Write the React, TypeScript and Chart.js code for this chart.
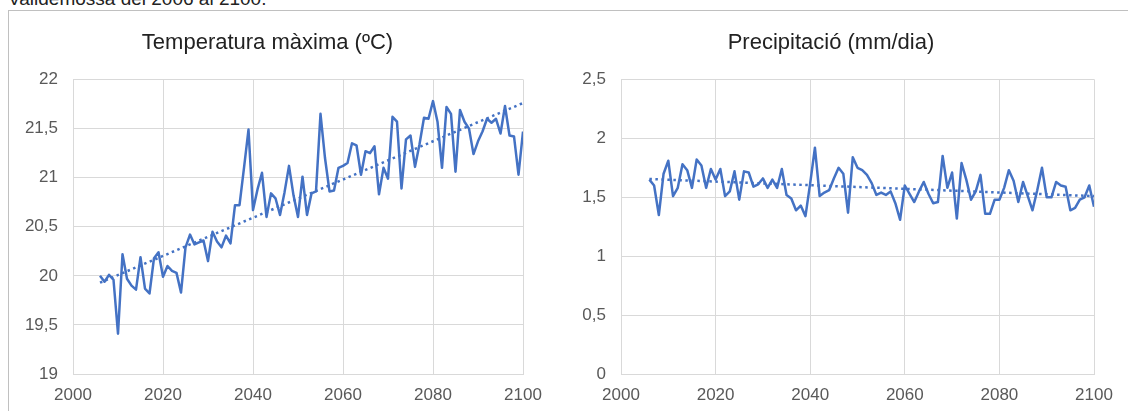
import React, { useEffect, useRef } from "react";
import { Chart, registerables } from "chart.js";

Chart.register(...registerables);

// ---------- data ----------
const CAPTION = "Valldemossa del 2006 al 2100.";
const TITLE_TEMP = "Temperatura màxima (ºC)";
const TITLE_PRECIP = "Precipitació (mm/dia)";

const START_YEAR = 2006;

const TEMP_MAX = [
  20.0, 19.94, 20.01, 19.96, 19.41, 20.22, 19.97, 19.9, 19.86, 20.19,
  19.87, 19.82, 20.18, 20.24, 19.99, 20.1, 20.05, 20.03, 19.83, 20.29,
  20.42, 20.32, 20.34, 20.36, 20.15, 20.45, 20.35, 20.29, 20.41, 20.33,
  20.72, 20.72, 21.1, 21.49, 20.67, 20.88, 21.05, 20.6, 20.84, 20.79,
  20.62, 20.85, 21.12, 20.82, 20.6, 21.01, 20.62, 20.84, 20.86, 21.65,
  21.2, 20.86, 20.87, 21.1, 21.12, 21.15, 21.35, 21.33, 21.03, 21.27,
  21.25, 21.32, 20.83, 21.1, 20.99, 21.62, 21.57, 20.89, 21.39, 21.43,
  21.11, 21.34, 21.61, 21.6, 21.78, 21.57, 21.1, 21.72, 21.65, 21.06,
  21.69, 21.57, 21.5, 21.24, 21.37, 21.47, 21.6, 21.56, 21.6, 21.45,
  21.73, 21.43, 21.42, 21.03, 21.47,
];

const PRECIP = [
  1.65, 1.6, 1.35, 1.7, 1.81, 1.51, 1.58, 1.78, 1.73, 1.58,
  1.82, 1.77, 1.58, 1.74, 1.65, 1.74, 1.51, 1.55, 1.72, 1.48,
  1.72, 1.71, 1.59, 1.61, 1.66, 1.58, 1.65, 1.58, 1.74, 1.52,
  1.49, 1.39, 1.43, 1.34, 1.62, 1.92, 1.51, 1.54, 1.56, 1.66,
  1.75, 1.7, 1.37, 1.84, 1.75, 1.73, 1.69, 1.62, 1.52, 1.54,
  1.52, 1.55, 1.45, 1.31, 1.6, 1.53, 1.46, 1.55, 1.63, 1.53,
  1.45, 1.46, 1.85, 1.58, 1.71, 1.32, 1.79, 1.65, 1.48, 1.55,
  1.69, 1.36, 1.36, 1.48, 1.48, 1.58, 1.73, 1.64, 1.46, 1.63,
  1.51, 1.39, 1.56, 1.75, 1.5, 1.5, 1.63, 1.6, 1.59, 1.39,
  1.41, 1.48, 1.5, 1.6, 1.42,
];

const YEARS = TEMP_MAX.map((_, i) => START_YEAR + i);

const TREND_YEARS = [2006, 2100];
const TEMP_TREND = [19.93, 21.76];
const PRECIP_TREND = [1.655, 1.51];

const X_TICKS = [2000, 2020, 2040, 2060, 2080, 2100];
const TEMP_TICKS = [19, 19.5, 20, 20.5, 21, 21.5, 22];
const PRECIP_TICKS = [0, 0.5, 1, 1.5, 2, 2.5];

// ---------- styles ----------
const FONT = "'Liberation Sans', Arial, sans-serif";
const BLUE = "#4472c4";
const GRID = "#d9d9d9";
const TICK_COLOR = "#595959";
const TITLE_COLOR = "#222222";

type PanelProps = {
  values: number[];
  trend: number[];
  yTicks: number[];
  title: string;
  padL: number;
  padR: number;
  padB: number;
  yWidth: number;
  titleTop: number;
  titleBottom: number;
  width: number;
  height: number;
  left: number;
  top: number;
};

const fmt = (v: number) => String(v).replace(".", ",");

function Panel(p: PanelProps) {
  const ref = useRef<HTMLCanvasElement | null>(null);
  useEffect(() => {
    if (!ref.current) return;
    const pts = (xs: number[], ys: number[]) => xs.map((x, i) => ({ x, y: ys[i] }));
    const chart = new Chart(ref.current, {
      type: "line",
      data: {
        datasets: [
          {
            data: pts(YEARS, p.values),
            borderColor: BLUE,
            borderWidth: 2.5,
            borderJoinStyle: "round",
            pointRadius: 0,
            tension: 0,
            fill: false,
          },
          {
            data: pts(TREND_YEARS, p.trend),
            borderColor: BLUE,
            borderWidth: 2.5,
            borderDash: [2.5, 3.5],
            pointRadius: 0,
            tension: 0,
            fill: false,
          },
        ],
      },
      options: {
        responsive: false,
        animation: false,
        devicePixelRatio: 1,
        layout: { padding: { left: p.padL, right: p.padR, top: 0, bottom: p.padB } },
        plugins: {
          legend: { display: false },
          tooltip: { enabled: false },
          title: {
            display: true,
            text: p.title,
            color: TITLE_COLOR,
            font: { size: 22, family: FONT, weight: "normal", lineHeight: 1.2 },
            padding: { top: p.titleTop, bottom: p.titleBottom },
          },
        },
        scales: {
          x: {
            type: "linear",
            min: X_TICKS[0],
            max: X_TICKS[X_TICKS.length - 1],
            afterBuildTicks: (s: any) => {
              s.ticks = X_TICKS.map((v) => ({ value: v }));
            },
            afterFit: (s: any) => {
              s.height = 30;
            },
            ticks: {
              color: TICK_COLOR,
              font: { size: 17, family: FONT },
              padding: 11,
              maxRotation: 0,
              autoSkip: false,
              callback: (v: any) => String(v),
            },
            grid: { color: GRID, lineWidth: 1, drawTicks: false },
            border: { color: GRID, width: 1 },
          },
          y: {
            type: "linear",
            min: p.yTicks[0],
            max: p.yTicks[p.yTicks.length - 1],
            afterBuildTicks: (s: any) => {
              s.ticks = p.yTicks.map((v) => ({ value: v }));
            },
            afterFit: (s: any) => {
              s.width = p.yWidth;
            },
            ticks: {
              color: TICK_COLOR,
              font: { size: 17, family: FONT },
              padding: 15,
              callback: (v: any) => fmt(Number(v)),
            },
            grid: { color: GRID, lineWidth: 1, drawTicks: false },
            border: { color: GRID, width: 1 },
          },
        },
      },
    } as any);
    return () => chart.destroy();
  }, []);
  return (
    <canvas
      ref={ref}
      width={p.width}
      height={p.height}
      style={{ position: "absolute", left: p.left, top: p.top, width: p.width, height: p.height }}
    />
  );
}

export default function App() {
  return (
    <div
      style={{
        position: "fixed",
        left: 0,
        top: 0,
        width: 1128,
        height: 411,
        overflow: "hidden",
        background: "#ffffff",
      }}
    >
      <div
        style={{
          position: "absolute",
          left: 8,
          top: -11,
          fontFamily: FONT,
          fontSize: 19,
          lineHeight: "19px",
          color: "#222222",
          whiteSpace: "nowrap",
        }}
      >
        {CAPTION}
      </div>
      <div
        style={{
          position: "absolute",
          left: 8,
          top: 10,
          width: 1200,
          height: 500,
          borderLeft: "1px solid #c0c0c0",
          borderTop: "1px solid #c0c0c0",
        }}
      />
      <Panel
        values={TEMP_MAX}
        trend={TEMP_TREND}
        yTicks={TEMP_TICKS}
        title={TITLE_TEMP}
        padL={3}
        padR={37}
        padB={7}
        yWidth={61}
        titleTop={18.8}
        titleBottom={23.3}
        width={551}
        height={400}
        left={9}
        top={11}
      />
      <Panel
        values={PRECIP}
        trend={PRECIP_TREND}
        yTicks={PRECIP_TICKS}
        title={TITLE_PRECIP}
        padL={8}
        padR={34}
        padB={6.7}
        yWidth={53}
        titleTop={18.3}
        titleBottom={23.6}
        width={568}
        height={400}
        left={560}
        top={11}
      />
    </div>
  );
}
